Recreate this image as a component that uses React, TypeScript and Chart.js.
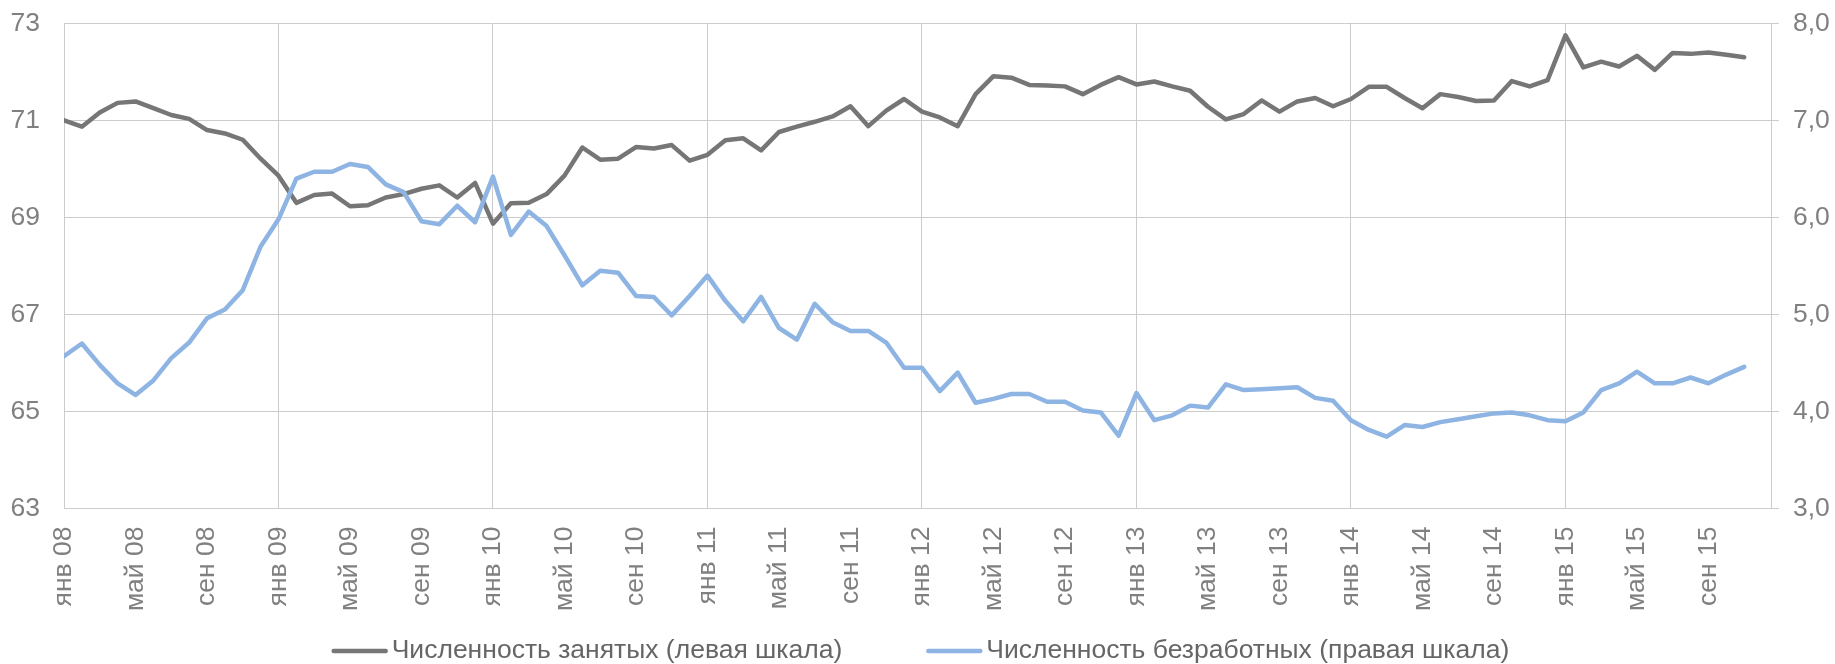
import React, { useEffect, useRef } from 'react';
import { Chart, registerables } from 'chart.js';

Chart.register(...registerables);

const MONTHS = ['янв', 'фев', 'мар', 'апр', 'май', 'июн', 'июл', 'авг', 'сен', 'окт', 'ноя', 'дек'];
const YEARS = ['08', '09', '10', '11', '12', '13', '14', '15'];

// Численность занятых, млн (левая шкала), янв 08 – ноя 15
const employed = [
  71.0, 70.87, 71.16, 71.36, 71.39, 71.25, 71.11, 71.03, 70.8, 70.73, 70.6, 70.21,
  69.86, 69.3, 69.46, 69.49, 69.23, 69.25, 69.41, 69.48, 69.59, 69.66, 69.41, 69.71,
  68.87, 69.29, 69.3, 69.48, 69.86, 70.44, 70.19, 70.21, 70.45, 70.42, 70.49, 70.17,
  70.29, 70.59, 70.63, 70.38, 70.76, 70.87, 70.97, 71.08, 71.29, 70.88, 71.2, 71.44,
  71.18, 71.06, 70.88, 71.54, 71.91, 71.88, 71.73, 71.72, 71.7, 71.54, 71.73, 71.89,
  71.74, 71.8, 71.7, 71.61, 71.28, 71.02, 71.13, 71.41, 71.18, 71.39, 71.46, 71.29,
  71.44, 71.69, 71.69, 71.46, 71.25, 71.54, 71.48, 71.4, 71.41, 71.81, 71.7, 71.83,
  72.75, 72.09, 72.21, 72.11, 72.33, 72.04, 72.39, 72.37, 72.4, 72.35, 72.3,
];

// Численность безработных, млн (правая шкала)
const unemployed = [
  4.57, 4.7, 4.48, 4.29, 4.17, 4.32, 4.55, 4.71, 4.96, 5.05, 5.25, 5.7,
  5.98, 6.4, 6.47, 6.47, 6.55, 6.52, 6.34, 6.26, 5.96, 5.93, 6.12, 5.95,
  6.42, 5.82, 6.06, 5.91, 5.61, 5.3, 5.45, 5.43, 5.19, 5.18, 4.99, 5.19,
  5.4, 5.14, 4.93, 5.18, 4.86, 4.74, 5.11, 4.92, 4.83, 4.83, 4.71, 4.45,
  4.45, 4.21, 4.4, 4.09, 4.13, 4.18, 4.18, 4.1, 4.1, 4.01, 3.99, 3.75,
  4.19, 3.91, 3.96, 4.06, 4.04, 4.28, 4.22, 4.23, 4.24, 4.25, 4.14, 4.11,
  3.91, 3.81, 3.74, 3.86, 3.84, 3.89, 3.92, 3.95, 3.98, 3.99, 3.96, 3.91,
  3.9, 3.99, 4.22, 4.29, 4.41, 4.29, 4.29, 4.35, 4.29, 4.38, 4.46,
];

const categories: string[] = [];
YEARS.forEach((y) => MONTHS.forEach((m) => categories.push(`${m} ${y}`)));

// positions of the shown x tick labels (every 4 months); vertical grid every 12
const xTickIndices = [0, 4, 8, 12, 16, 20, 24, 28, 32, 36, 40, 44, 48, 52, 56, 60, 64, 68, 72, 76, 80, 84, 88, 92];
const leftTicks = [63, 65, 67, 69, 71, 73];
const rightTicks = [3, 4, 5, 6, 7, 8];

const SERIES_NAMES = ['Численность занятых (левая шкала)', 'Численность безработных (правая шкала)'];

const FONT = "'Liberation Sans', Arial, sans-serif";
const FONT_SIZE = 26.5;
const GRID = '#cccccc';
const TICK = '#808080';
const LEGEND_TEXT = '#666666';
const GRAY_LINE = '#767676';
const BLUE_LINE = '#8DB4E2';
const LINE_W = 4.5;

// legend drawn on the canvas below the axis labels
const bottomLegend = {
  id: 'bottomLegend',
  afterDraw(chart: any) {
    const ctx = chart.ctx as CanvasRenderingContext2D;
    const sets = chart.data.datasets;
    const markW = 56;
    const markGap = 4;
    const itemGap = 84;
    ctx.save();
    ctx.font = `${FONT_SIZE}px ${FONT}`;
    const widths = sets.map((d: any) => ctx.measureText(d.label).width);
    const total = widths.reduce((a: number, w: number) => a + markW + markGap + w, 0) + itemGap * (sets.length - 1);
    let x = (chart.chartArea.left + chart.chartArea.right) / 2 + 3 - total / 2;
    const y = chart.height - 13;
    sets.forEach((d: any, i: number) => {
      ctx.strokeStyle = d.borderColor;
      ctx.lineWidth = LINE_W;
      ctx.lineCap = 'round';
      ctx.beginPath();
      ctx.moveTo(x + 2, y);
      ctx.lineTo(x + markW - 2, y);
      ctx.stroke();
      ctx.fillStyle = LEGEND_TEXT;
      ctx.textBaseline = 'middle';
      ctx.textAlign = 'left';
      ctx.fillText(d.label, x + markW + markGap, y);
      x += markW + markGap + widths[i] + itemGap;
    });
    ctx.restore();
  },
};

const fitY = (s: any) => {
  s.width = 64;
  s.paddingTop = 0;
  s.paddingBottom = 0;
};

export default function App() {
  const ref = useRef<HTMLCanvasElement | null>(null);

  useEffect(() => {
    if (!ref.current) return;
    const chart = new Chart(ref.current, {
      type: 'line',
      data: {
        datasets: [
          {
            label: SERIES_NAMES[0],
            data: employed.map((v, i) => ({ x: i, y: v })),
            borderColor: GRAY_LINE,
            backgroundColor: GRAY_LINE,
            borderWidth: LINE_W,
            pointRadius: 0,
            borderJoinStyle: 'round',
            borderCapStyle: 'round',
            tension: 0,
            yAxisID: 'y',
            order: 2,
          },
          {
            label: SERIES_NAMES[1],
            data: unemployed.map((v, i) => ({ x: i, y: v })),
            borderColor: BLUE_LINE,
            backgroundColor: BLUE_LINE,
            borderWidth: LINE_W,
            pointRadius: 0,
            borderJoinStyle: 'round',
            borderCapStyle: 'round',
            tension: 0,
            yAxisID: 'y1',
            order: 1,
          },
        ],
      },
      plugins: [bottomLegend],
      options: {
        animation: false,
        responsive: false,
        devicePixelRatio: 1,
        layout: { padding: { top: 23.3, left: 0, right: 0, bottom: 50 } },
        plugins: {
          legend: { display: false },
          tooltip: { enabled: false },
        },
        scales: {
          x: {
            type: 'linear',
            min: 0,
            max: 95.5,
            afterBuildTicks: (s: any) => {
              s.ticks = xTickIndices.map((v) => ({ value: v }));
            },
            afterFit: (s: any) => {
              s.height = 105.5;
            },
            grid: {
              drawTicks: false,
              color: (ctx: any) => (ctx.tick && ctx.tick.value % 12 === 0 ? GRID : 'rgba(0,0,0,0)'),
              lineWidth: 1,
            },
            border: { color: GRID, width: 1 },
            ticks: {
              autoSkip: false,
              minRotation: 90,
              maxRotation: 90,
              padding: 18,
              color: TICK,
              font: { family: FONT, size: FONT_SIZE },
              callback: (v: any) => categories[v as number],
            },
          },
          y: {
            position: 'left',
            min: 63,
            max: 73,
            afterBuildTicks: (s: any) => {
              s.ticks = leftTicks.map((v) => ({ value: v }));
            },
            afterFit: fitY,
            grid: { color: GRID, drawTicks: false, lineWidth: 1 },
            border: { color: GRID, width: 1 },
            ticks: {
              padding: 24,
              color: TICK,
              font: { family: FONT, size: FONT_SIZE },
            },
          },
          y1: {
            position: 'right',
            min: 3,
            max: 8,
            afterBuildTicks: (s: any) => {
              s.ticks = rightTicks.map((v) => ({ value: v }));
            },
            afterFit: fitY,
            grid: { drawOnChartArea: false, drawTicks: true, tickLength: 8, color: GRID, lineWidth: 1 },
            border: { color: GRID, width: 1 },
            ticks: {
              padding: 14,
              color: TICK,
              font: { family: FONT, size: FONT_SIZE },
              callback: (v: any) => Number(v).toFixed(1).replace('.', ','),
            },
          },
        },
      } as any,
    });
    return () => chart.destroy();
  }, []);

  return (
    <div style={{ position: 'fixed', left: 0, top: 0, width: 1835, height: 664, background: '#ffffff' }}>
      <canvas ref={ref} width={1835} height={664} style={{ display: 'block', width: 1835, height: 664 }} />
    </div>
  );
}
